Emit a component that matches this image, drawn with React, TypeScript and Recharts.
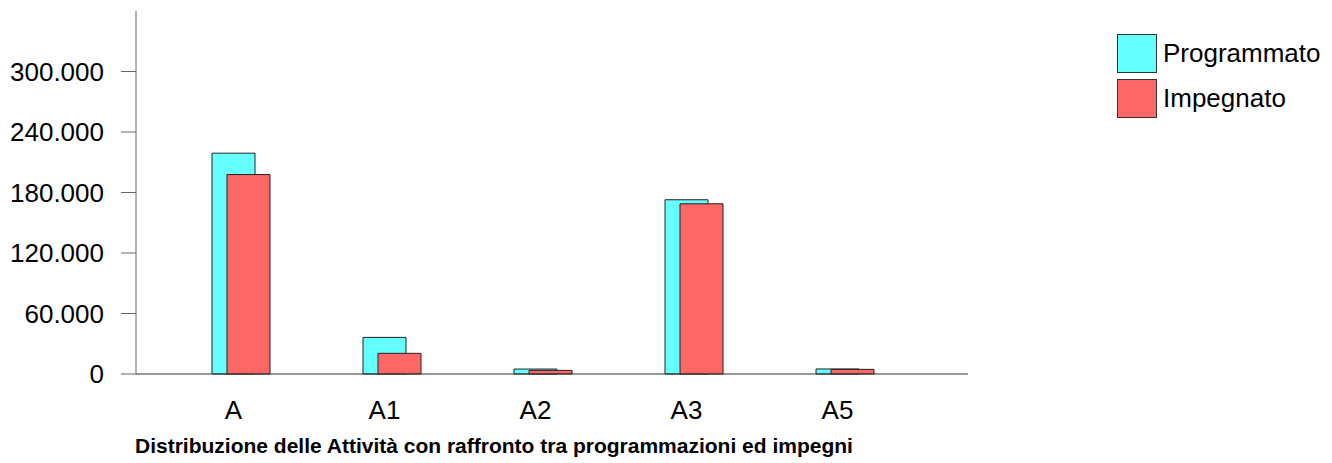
import { BarChart, Bar, XAxis, YAxis } from "recharts";

const categories = ["A", "A1", "A2", "A3", "A5"];
const programmato = [219000, 36300, 4900, 172800, 5000];
const impegnato = [197800, 20500, 3600, 168800, 4600];
const yTicks = [0, 60000, 120000, 180000, 240000, 300000];

const SERIES = [
  { key: "programmato", name: "Programmato", color: "#66FFFF" },
  { key: "impegnato", name: "Impegnato", color: "#FF6666" },
];

const FONT = "'Liberation Sans', Arial, Helvetica, sans-serif";

const data = categories.map((name, i) => ({
  name,
  programmato: programmato[i],
  impegnato: impegnato[i],
}));

function formatThousands(value: number): string {
  return String(Math.round(value)).replace(/\B(?=(\d{3})+(?!\d))/g, ".");
}

// legend drawn outside the chart so it doesn't eat plot space
function LegendBox() {
  return (
    <div
      style={{
        position: "absolute",
        left: 1117,
        top: 31,
        fontSize: 26,
        color: "#000",
      }}
    >
      {SERIES.map((s) => (
        <div
          key={s.key}
          style={{ display: "flex", alignItems: "center", height: 45 }}
        >
          <div
            style={{
              width: 38,
              height: 37,
              background: s.color,
              border: "1px solid #333",
              marginRight: 6,
            }}
          />
          <span>{s.name}</span>
        </div>
      ))}
    </div>
  );
}

export default function App() {
  return (
    <div
      style={{
        position: "absolute",
        left: 0,
        top: 0,
        width: 1332,
        height: 463,
        background: "#fff",
        fontFamily: FONT,
      }}
    >
      <BarChart
        width={1332}
        height={463}
        data={data}
        margin={{ top: 11, right: 364, bottom: 0, left: 0 }}
        barSize={43}
        barGap={-28}
      >
        <XAxis
          dataKey="name"
          padding={{ left: 29, right: 48 }}
          tickLine={false}
          tickSize={6}
          tickMargin={21}
          stroke="#333"
          interval={0}
          tick={{ fill: "#000", fontSize: 26, fontFamily: FONT, dx: -7 }}
          height={89}
        />
        <YAxis
          domain={[0, 360000]}
          ticks={yTicks}
          interval={0}
          width={136}
          tickSize={15}
          tickMargin={17}
          stroke="#666"
          tickFormatter={formatThousands}
          tick={{ fill: "#000", fontSize: 26, fontFamily: FONT }}
        />
        {SERIES.map((s) => (
          <Bar
            key={s.key}
            dataKey={s.key}
            name={s.name}
            fill={s.color}
            stroke="#222"
            strokeWidth={1}
            isAnimationActive={false}
          />
        ))}
      </BarChart>
      <LegendBox />
      <div
        style={{
          position: "absolute",
          left: 135,
          top: 434,
          fontSize: 21,
          fontWeight: "bold",
          color: "#000",
          whiteSpace: "nowrap",
        }}
      >
        Distribuzione delle Attività con raffronto tra programmazioni ed impegni
      </div>
    </div>
  );
}
